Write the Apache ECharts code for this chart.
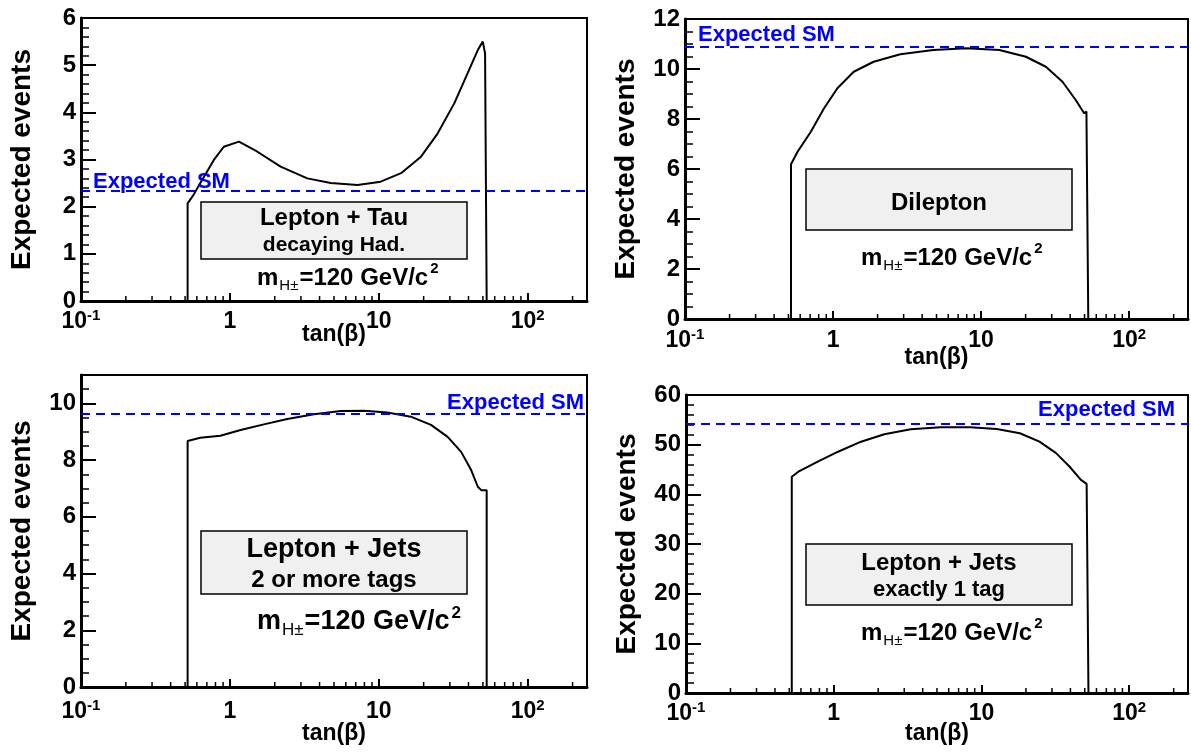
<!DOCTYPE html>
<html><head><meta charset="utf-8">
<script src="https://cdn.jsdelivr.net/npm/echarts@6/dist/echarts.min.js"></script>
<style>html,body{margin:0;padding:0;background:#fff}#c{width:1191px;height:753px}</style>
</head><body><div id="c"></div>
<script>
// ---- data (tan(beta), expected events) ----
const tanbTau = [0.52,0.52,0.57,0.63,0.78,0.91,1.15,1.52,2.19,3.31,4.75,7.19,10.3,14.1,19.2,24.8,32.1,39.5,46.2,49.9,51.7,53,53];
const evTau   = [0,2.07,2.25,2.49,2.99,3.27,3.38,3.17,2.85,2.60,2.50,2.46,2.53,2.71,3.06,3.55,4.19,4.83,5.32,5.50,5.25,5.25,0];

const tanbDil = [0.52,0.52,0.576,0.708,0.87,1.07,1.38,1.88,2.85,4.76,7.96,13.3,20.1,27.4,35.5,43.6,49.7,51.5,53,53];
const evDil   = [0,6.19,6.69,7.49,8.43,9.23,9.89,10.29,10.59,10.76,10.83,10.76,10.49,10.09,9.49,8.76,8.23,8.3,8.3,0];

const tanbLJ2 = [0.52,0.52,0.632,0.863,1.18,1.69,2.43,3.67,5.55,7.97,11.4,16.4,22.4,29.0,35.7,41.7,46.2,48.7,53,53];
const evLJ2   = [0,8.67,8.79,8.86,9.06,9.26,9.45,9.62,9.73,9.74,9.68,9.53,9.24,8.82,8.29,7.65,7.06,6.94,6.94,0];

const tanbLJ1 = [0.52,0.52,0.576,0.78,1.07,1.53,2.20,3.32,5.28,8.39,12.7,18.2,24.7,32.0,39.4,47.1,51.5,53,53];
const evLJ1   = [0,43.55,44.56,46.57,48.58,50.6,52.1,53.1,53.5,53.5,53.15,52.3,50.6,48.3,45.6,42.9,42.1,42.1,0];

const expectedSM = [2.33, 10.88, 9.63, 54.2];
const xTickLabels = ['10{sup|-1}', '1', '10', '10{sup|2}']; // at tanb = 0.1, 1, 10, 100
const xMinorTicks = [0.2,0.3,0.4,0.5,0.6,0.7,0.8,0.9,2,3,4,5,6,7,8,9,20,30,40,50,60,70,80,90,200];
const xRange = [0.1, 250];
const yMax = [6, 12, 11, 60];
const yInterval = [1, 2, 2, 10];
const yMinorSplit = [5, 4, 4, 5];
const boxTitles = [['Lepton + Tau', 'decaying Had.'], ['Dilepton'], ['Lepton + Jets', '2 or more tags'], ['Lepton + Jets', 'exactly 1 tag']];
const massLabel = 'm{sub|H±}=120 GeV/c{sup|2}';

const FONT = '"Liberation Sans", Arial, Helvetica, sans-serif';
const curves = [[tanbTau, evTau], [tanbDil, evDil], [tanbLJ2, evLJ2], [tanbLJ1, evLJ1]];

const grids = [
  {left: 81, top: 18, width: 506, height: 283},
  {left: 685, top: 19, width: 505, height: 300},
  {left: 81, top: 375, width: 506, height: 312},
  {left: 686, top: 395, width: 504, height: 298}
];
const xNameGap = [22, 27, 35, 29];
const xLabelMargin = [7, 8, 11, 7];
const smLabelPos = ['insideStartTop', 'insideStartTop', 'insideEndTop', 'insideEndTop'];
const smLabelDist = [[12, -2], [13, 1], [3, 0], [13, 3]];

const option = {
  animation: false,
  backgroundColor: '#fff',
  grid: grids.map(g => Object.assign({show: true, borderColor: '#000', borderWidth: 2, backgroundColor: 'transparent'}, g)),
  xAxis: grids.map((g, i) => ({
    gridIndex: i, type: 'value',
    min: Math.log10(xRange[0]), max: Math.log10(xRange[1]), interval: 1,
    name: 'tan(β)', nameLocation: 'middle', nameGap: xNameGap[i], nameMoveOverlap: false,
    nameTextStyle: {fontFamily: FONT, fontWeight: 'bold', fontSize: 23, color: '#000'},
    axisLine: {show: true, onZero: false, lineStyle: {color: '#000', width: 3}},
    axisTick: {show: true, inside: true, length: 8, lineStyle: {color: '#000', width: 2}},
    splitLine: {show: false},
    axisLabel: {
      margin: xLabelMargin[i], color: '#000', fontFamily: FONT, fontWeight: 'bold', fontSize: 23, lineHeight: 28,
      formatter: v => { const r = Math.round(v); return Math.abs(v - r) < 1e-6 && r >= -1 && r <= 2 ? xTickLabels[r + 1] : ''; },
      rich: {sup: {fontFamily: FONT, fontWeight: 'bold', fontSize: 15, verticalAlign: 'middle', color: '#000', padding: [0, 0, 12, 0]}}
    }
  })),
  yAxis: grids.map((g, i) => ({
    gridIndex: i, type: 'value', min: 0, max: yMax[i], interval: yInterval[i],
    name: 'Expected events', nameLocation: 'middle', nameGap: 45, nameMoveOverlap: false,
    nameTextStyle: {fontFamily: FONT, fontWeight: 'bold', fontSize: 28, color: '#000'},
    axisLine: {show: true, onZero: false, lineStyle: {color: '#000', width: 3}},
    axisTick: {show: true, inside: true, length: 15, lineStyle: {color: '#000', width: 2}},
    minorTick: {show: true, splitNumber: yMinorSplit[i], length: 8, lineStyle: {color: '#000', width: 1.5}},
    splitLine: {show: false}, minorSplitLine: {show: false},
    axisLabel: {
      margin: 5, color: '#000', fontFamily: FONT, fontWeight: 'bold', fontSize: 24,
      formatter: v => (Math.abs(v / yInterval[i] - Math.round(v / yInterval[i])) < 1e-6 ? String(v) : '')
    }
  })),
  series: []
};

curves.forEach((c, i) => {
  option.series.push({
    type: 'line', xAxisIndex: i, yAxisIndex: i, showSymbol: false, symbol: 'none', silent: true,
    data: c[0].map((t, k) => [Math.log10(t), c[1][k]]),
    lineStyle: {color: '#000', width: 2}, z: 3,
    markLine: {
      symbol: 'none', silent: true, animation: false,
      data: [{yAxis: expectedSM[i]}],
      lineStyle: {color: '#0000ff', type: [9, 6], width: 2},
      label: {show: true, position: smLabelPos[i], distance: smLabelDist[i], formatter: 'Expected SM',
        color: '#0000ff', fontFamily: FONT, fontWeight: 'bold', fontSize: 22}
    }
  });
  option.series.push({
    type: 'custom', xAxisIndex: i, yAxisIndex: i, silent: true, clip: false, z: 4,
    data: xMinorTicks.map(t => [Math.log10(t), 0]),
    renderItem: (params, api) => {
      const p = api.coord([api.value(0), api.value(1)]);
      return {type: 'line', shape: {x1: p[0], y1: p[1], x2: p[0], y2: p[1] - 5}, style: {stroke: '#000', lineWidth: 1.5}};
    }
  });
});

// annotation boxes
const boxes = [
  {x: 201, y: 202, w: 266, h: 57, ty: [218, 245], fs: [24, 21], mx: 257, my: 278, mfs: 24},
  {x: 806, y: 169, w: 266, h: 61, ty: [203], fs: [24], mx: 861, my: 258, mfs: 24},
  {x: 201, y: 531, w: 266, h: 63, ty: [550, 580], fs: [27, 24], mx: 257, my: 622, mfs: 27},
  {x: 806, y: 544, w: 266, h: 61, ty: [563, 590], fs: [24, 22], mx: 861, my: 633, mfs: 24}
];
const graphics = [];
boxes.forEach((b, i) => {
  graphics.push({type: 'rect', z: 10, shape: {x: b.x, y: b.y, width: b.w, height: b.h},
    style: {fill: '#f0f0f0', stroke: '#000', lineWidth: 1.5}});
  boxTitles[i].forEach((t, k) => {
    graphics.push({type: 'text', z: 11, x: b.x + b.w / 2, y: b.ty[k],
      style: {text: t, fontFamily: FONT, fontWeight: 'bold', fontSize: b.fs[k], fill: '#000', align: 'center', verticalAlign: 'middle'}});
  });
  const small = Math.round(b.mfs * 0.62);
  graphics.push({type: 'text', z: 11, x: b.mx, y: b.my,
    style: {text: massLabel, fontFamily: FONT, fontWeight: 'bold', fontSize: b.mfs, fill: '#000', align: 'left', verticalAlign: 'middle',
      rich: {
        sub: {fontFamily: FONT, fontWeight: 'normal', fontSize: small, verticalAlign: 'middle', padding: [16, 1, 0, 1]},
        sup: {fontFamily: FONT, fontWeight: 'bold', fontSize: small, verticalAlign: 'middle', padding: [0, 0, 18, 2]}
      }}});
});
option.graphic = graphics;

const chart = echarts.init(document.getElementById('c'), null, {renderer: 'canvas'});
chart.setOption(option);
</script></body></html>
